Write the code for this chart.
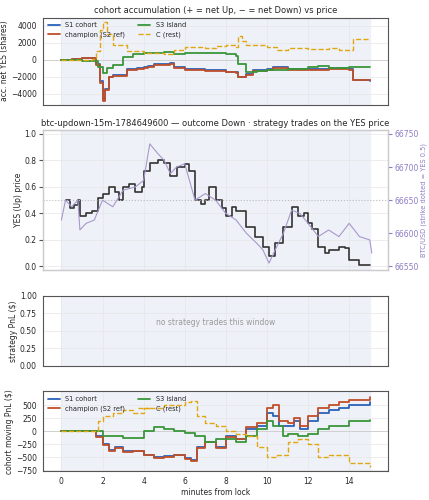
import numpy as np, pandas as pd, matplotlib
matplotlib.use("Agg")
import matplotlib.pyplot as plt, seaborn as sns

sns.set_style("whitegrid")
plt.rcParams['font.family'] = ['DejaVu Sans']

acc_s1_t = [0,0.5,1,1.5,1.7,1.9,2.0,2.1,2.3,2.5,3,3.2,3.7,4,4.2,4.5,5,5.3,5.5,6,7,8,8.5,8.6,9,9.3,10,10.3,11,12,13,14,14.2,15]
acc_s1_v = [0,100,250,200,-500,-2500,-4800,-3500,-2000,-1800,-1800,-1100,-1000,-900,-700,-500,-500,-400,-900,-1100,-1200,-1400,-1500,-2000,-1700,-1200,-1100,-900,-1100,-1100,-1000,-1100,-2400,-2500]
acc_ch_v = [0,80,220,180,-600,-2700,-4900,-3600,-2100,-1900,-1900,-1200,-1100,-1000,-800,-600,-600,-500,-1000,-1200,-1300,-1500,-1600,-2100,-1800,-1300,-1200,-1000,-1200,-1200,-1100,-1200,-2400,-2400]
acc_s3_t = [0,1,1.5,1.8,2.0,2.2,2.5,3,3.5,4,5,5.5,6,7,8,8.5,8.6,9,9.5,10,11,12,12.5,13,14,15]
acc_s3_v = [0,-100,-200,-800,-1600,-1000,-600,300,700,800,900,700,800,800,700,500,-500,-1500,-1300,-1200,-1100,-900,-700,-1000,-900,-800]
acc_c_t = [0,1,1.5,1.7,1.9,2.0,2.2,2.5,3,3.2,4,5,5.5,6,7,7.5,8,8.5,8.6,8.8,9,10,10.5,11,12,13,13.5,14,14.2,15]
acc_c_v = [0,0,100,1000,3500,4500,3000,1800,1700,1000,800,700,1200,1500,1400,1600,1700,1500,2800,2200,1800,1500,1200,1400,1300,1400,1200,1100,2500,2500]

yes_t = [0.2,0.4,0.6,0.8,0.9,1.2,1.5,1.8,2,2.3,2.6,2.8,3,3.3,3.6,3.9,4,4.3,4.7,5,5.3,5.6,6,6.2,6.5,6.8,7,7.2,7.5,7.8,8,8.3,8.5,9,9.4,9.8,10.1,10.4,10.8,11.2,11.5,11.8,12,12.2,12.5,12.8,13,13.5,13.8,14,14.5,15]
yes_v = [0.5,0.44,0.46,0.5,0.38,0.40,0.42,0.52,0.55,0.6,0.56,0.5,0.6,0.62,0.56,0.6,0.72,0.78,0.8,0.78,0.68,0.75,0.77,0.72,0.5,0.47,0.5,0.6,0.5,0.44,0.38,0.45,0.42,0.3,0.22,0.15,0.08,0.18,0.3,0.45,0.38,0.4,0.33,0.28,0.15,0.1,0.12,0.15,0.14,0.05,0.01,0.01]
btc_t = [0,0.2,0.5,0.8,0.9,1.2,1.6,2,2.5,3,3.6,4,4.3,4.7,5,5.3,5.6,6,6.5,7,7.5,8,8.5,9,9.5,9.8,10.1,10.4,10.8,11.2,11.6,12,12.5,13,13.5,14,14.5,15,15.1]
btc_v = [66620,66650,66640,66650,66605,66615,66620,66650,66640,66665,66670,66680,66735,66720,66710,66690,66700,66705,66650,66660,66650,66630,66620,66600,66585,66575,66555,66575,66600,66635,66630,66615,66595,66605,66595,66615,66595,66590,66570]

pnl_s1_t = [0,1.5,1.7,2,2.3,2.6,3,3.5,4,4.5,5,5.5,6,6.3,6.6,7,7.5,8,8.5,9,9.5,10,10.3,10.6,11,11.3,11.6,12,12.5,13,13.5,14,15]
pnl_s1_v = [0,0,-100,-250,-350,-300,-380,-370,-450,-500,-480,-450,-520,-550,-300,-200,-300,-100,-150,50,100,350,300,100,100,200,50,200,350,400,450,500,550]
pnl_ch_v = [0,0,-110,-270,-370,-320,-400,-380,-460,-520,-500,-460,-540,-560,-320,-210,-320,-110,-150,80,150,450,500,200,150,250,100,300,450,500,550,600,650]
pnl_s3_t = [0,1.5,2,3,4,4.5,5,5.5,6,6.5,7,7.5,8,8.5,9,9.5,10,10.3,10.8,11,11.5,12,12.5,13,14,15]
pnl_s3_v = [0,0,-100,-120,0,80,50,0,-30,-100,-200,-150,-150,-200,-100,50,200,100,-100,-50,-100,-50,50,100,200,220]
pnl_c_t = [0,1.5,1.8,2,2.5,3,3.5,4,5,6,6.3,6.6,7,7.5,8,8.5,9,9.5,10,10.5,11,11.5,12,12.5,13,14,15]
pnl_c_v = [0,0,200,300,350,400,350,450,500,550,580,300,150,100,0,-50,-100,-300,-500,-450,-200,-150,-250,-500,-450,-600,-680]

colors = {"S1 cohort": "#2b62b8", "champion (S2 ref)": "#c04f28", "S3 island": "#3a963a", "C (rest)": "#e2a612"}
FS = 5.5

fig, axes = plt.subplots(4, 1, figsize=(4.29, 5.0), dpi=100, sharex=True,
                         gridspec_kw=dict(height_ratios=[93, 150, 75, 85], hspace=0.27))
fig.subplots_adjust(left=0.1, right=0.905, top=0.965, bottom=0.058)
for i, ax in enumerate(axes):
    ax.axvspan(0, 15, color="#eef1f8", zorder=0)
    ax.set_xlim(-0.9, 15.9)
    ax.grid(color="#e6e6e6", lw=0.5)
    for s in ax.spines.values():
        s.set_color("#555"); s.set_linewidth(0.8)
    ax.tick_params(labelsize=FS, length=3, color="#555", pad=1.5)
    if i in (0, 3):
        ax.axhline(0, color="#ccc", lw=0.6)

def draw(ax, t, v, name, lw=1.3, ls="-"):
    sns.lineplot(x=t, y=v, ax=ax, color=colors[name], lw=lw, ls=ls, drawstyle="steps-post", label=name)

ax = axes[0]
draw(ax, acc_s1_t, acc_s1_v, "S1 cohort")
draw(ax, acc_s1_t, acc_ch_v, "champion (S2 ref)")
draw(ax, acc_s3_t, acc_s3_v, "S3 island")
draw(ax, acc_c_t, acc_c_v, "C (rest)", lw=1.0, ls="--")
ax.set_ylim(-5300, 5000)
ax.set_yticks([-4000, -2000, 0, 2000, 4000])
ax.set_ylabel("acc. net YES (shares)", fontsize=FS, labelpad=1)
ax.set_title("cohort accumulation (+ = net Up, − = net Down) vs price", fontsize=6, pad=3)
ax.legend(fontsize=4.8, ncol=2, loc="upper left", frameon=False, handlelength=1.8, borderaxespad=0.3)

ax = axes[1]
sns.lineplot(x=yes_t, y=yes_v, ax=ax, color="#333", lw=1.2, drawstyle="steps-post")
ax.axhline(0.5, color="#bbb", lw=0.8, ls=":")
ax.set_ylim(-0.03, 1.03)
ax.set_ylabel("YES (Up) price", fontsize=FS, labelpad=1)
ax.set_title("btc-updown-15m-1784649600 — outcome Down · strategy trades on the YES price", fontsize=6, pad=3)
tw = ax.twinx()
sns.lineplot(x=btc_t, y=btc_v, ax=tw, color="#a898cc", lw=0.8)
tw.set_ylim(66544, 66756)
tw.set_yticks([66550, 66600, 66650, 66700, 66750])
tw.tick_params(labelsize=FS, colors="#8e7cc3", length=3, pad=1.5)
tw.set_ylabel("BTC/USD (strike dotted = YES 0.5)", fontsize=4.8, color="#8e7cc3", labelpad=1)
tw.grid(False)

ax = axes[2]
ax.set_ylim(0, 1)
ax.set_ylabel("strategy PnL ($)", fontsize=FS, labelpad=1)
ax.text(7.5, 0.62, "no strategy trades this window", ha="center", va="center", fontsize=FS, color="#999")

ax = axes[3]
draw(ax, pnl_s1_t, pnl_s1_v, "S1 cohort")
draw(ax, pnl_s1_t, pnl_ch_v, "champion (S2 ref)")
draw(ax, pnl_s3_t, pnl_s3_v, "S3 island")
draw(ax, pnl_c_t, pnl_c_v, "C (rest)", lw=1.0, ls="--")
ax.set_ylim(-760, 760)
ax.set_yticks([-750, -500, -250, 0, 250, 500])
ax.set_ylabel("cohort moving PnL ($)", fontsize=FS, labelpad=1)
ax.set_xlabel("minutes from lock", fontsize=FS, labelpad=1)
ax.set_xticks([0, 2, 4, 6, 8, 10, 12, 14])
ax.legend(fontsize=4.8, ncol=2, loc="upper left", frameon=False, handlelength=1.8, borderaxespad=0.3)

fig.savefig("out.png", dpi=100)
